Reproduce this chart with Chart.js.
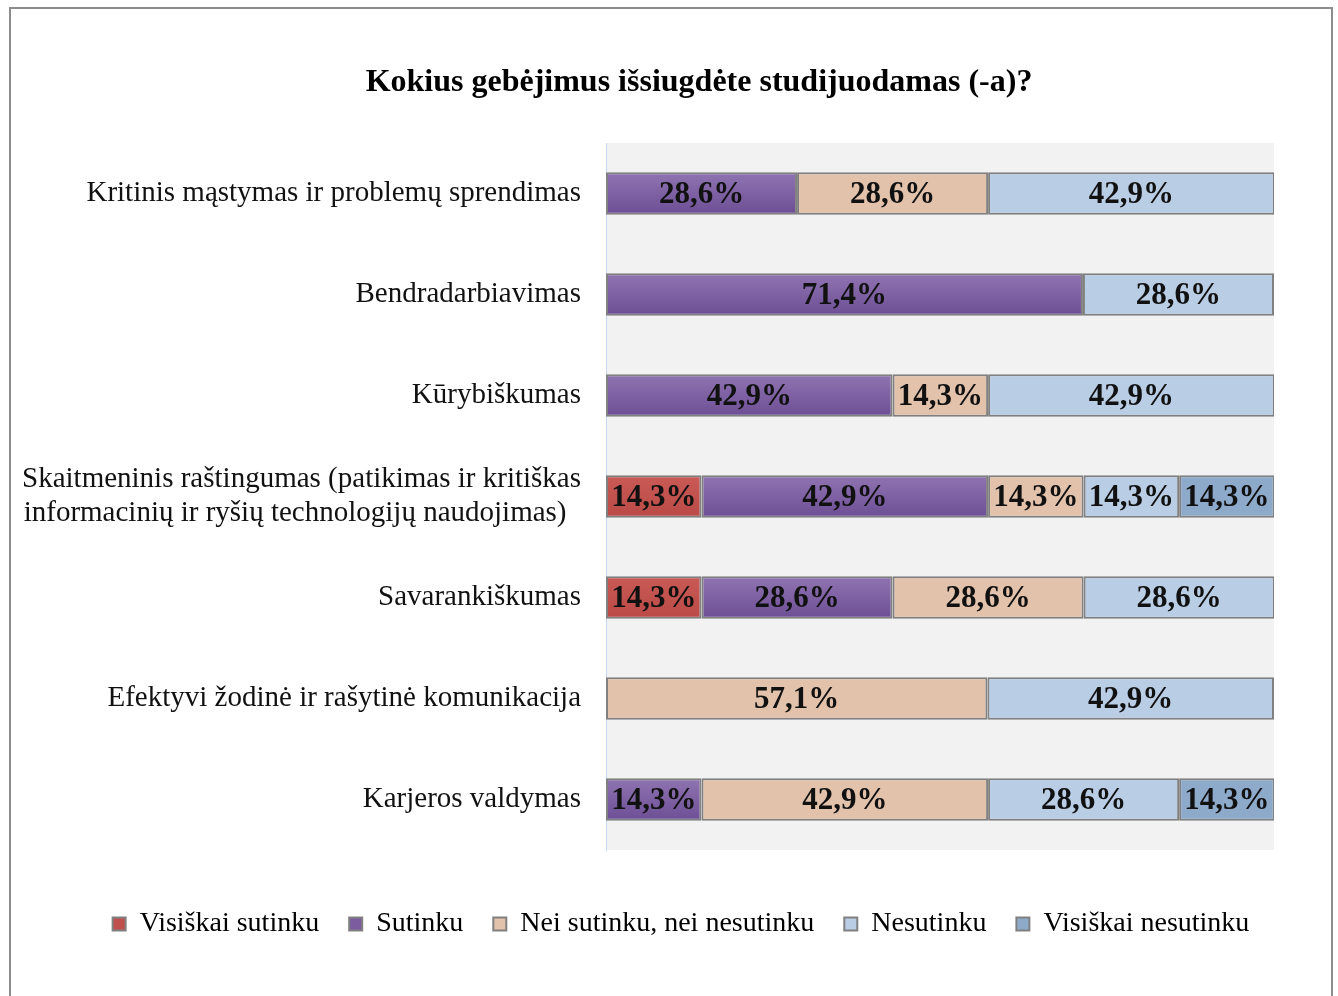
<!DOCTYPE html>
<html>
<head>
<meta charset="utf-8">
<script src="https://cdn.jsdelivr.net/npm/chart.js@4"></script>
<style>
html, body { margin: 0; padding: 0; background: #fff; overflow: hidden; }
#frame { position: absolute; left: 9px; top: 7px; width: 1320px; height: 1010px; border: 2px solid #8d8d8d; }
#grafico { position: absolute; left: 0; top: 0; }
</style>
</head>
<body>
<div id="frame"></div>
<canvas id="grafico" width="1338" height="996"></canvas>
<script>
const titulo = 'Kokius gebėjimus išsiugdėte studijuodamas (-a)?';

const categorias = [
  'Kritinis mąstymas ir problemų sprendimas',
  'Bendradarbiavimas',
  'Kūrybiškumas',
  ['Skaitmeninis raštingumas (patikimas ir kritiškas', 'informacinių ir ryšių technologijų naudojimas)  '],
  'Savarankiškumas',
  'Efektyvi žodinė ir rašytinė komunikacija',
  'Karjeros valdymas'
];

const series = ['Visiškai sutinku', 'Sutinku', 'Nei sutinku, nei nesutinku', 'Nesutinku', 'Visiškai nesutinku'];

// % by category, null = no segment
const visiskaiSutinku   = [null, null, null, 14.3, 14.3, null, null];
const sutinku           = [28.6, 71.4, 42.9, 42.9, 28.6, null, 14.3];
const neiSutinku        = [28.6, null, 14.3, 14.3, 28.6, 57.1, 42.9];
const nesutinku         = [42.9, 28.6, 42.9, 14.3, 28.6, 42.9, 28.6];
const visiskaiNesutinku = [null, null, null, 14.3, null, null, 14.3];

const valores = [visiskaiSutinku, sutinku, neiSutinku, nesutinku, visiskaiNesutinku];
const colores = ['#c0504d', '#7c5c9f', '#e2c2ab', '#b9cde5', '#8eaacb'];
const coloresArriba = ['#c95a56', '#8f74b1', '#e2c2ab', '#b9cde5', '#8eaacb'];
const coloresAbajo  = ['#bb4a46', '#6d4e95', '#e2c2ab', '#b9cde5', '#8eaacb'];

const serif = '"Liberation Serif", "Times New Roman", serif';

const fmt = v => v.toFixed(1).replace('.', ',') + '%';

// vertical gradient inside each bar (needs element positions, so a second update)
const degradado = i => c => {
  const el = c.element;
  if (!el || !isFinite(el.y) || !el.height) return colores[i];
  const g = c.chart.ctx.createLinearGradient(0, el.y - el.height / 2, 0, el.y + el.height / 2);
  g.addColorStop(0, coloresArriba[i]);
  g.addColorStop(1, coloresAbajo[i]);
  return g;
};

const fondo = {
  id: 'fondo',
  beforeDraw(chart) {
    const { ctx, chartArea: a } = chart;
    ctx.save();
    ctx.fillStyle = '#f2f2f2';
    ctx.fillRect(a.left, a.top, a.right - a.left, a.bottom - a.top);
    ctx.restore();
  }
};

const tituloPlugin = {
  id: 'tituloPlugin',
  afterDraw(chart) {
    const ctx = chart.ctx;
    ctx.save();
    ctx.font = 'bold 32px ' + serif;
    ctx.fillStyle = '#000';
    ctx.textAlign = 'center';
    ctx.textBaseline = 'middle';
    ctx.fillText(titulo, 699, 83);
    ctx.restore();
  }
};

const etiquetas = {
  id: 'etiquetas',
  afterDatasetsDraw(chart) {
    const ctx = chart.ctx;
    ctx.save();
    ctx.font = 'bold 31px ' + serif;
    ctx.fillStyle = '#111';
    ctx.textAlign = 'center';
    ctx.textBaseline = 'middle';
    chart.data.datasets.forEach((ds, i) => {
      chart.getDatasetMeta(i).data.forEach((bar, j) => {
        const v = ds.data[j];
        if (v == null) return;
        const p = bar.getProps(['x', 'y', 'base'], true);
        ctx.fillText(fmt(v), (p.x + p.base) / 2, p.y + 1);
      });
    });
    ctx.restore();
  }
};

const grafico = new Chart(document.getElementById('grafico'), {
  type: 'bar',
  data: {
    labels: categorias,
    datasets: series.map((s, i) => ({
      label: s,
      data: valores[i],
      backgroundColor: degradado(i),
      borderColor: '#808080',
      borderWidth: 2,
      borderSkipped: false,
      barPercentage: 0.42,
      categoryPercentage: 1
    }))
  },
  options: {
    indexAxis: 'y',
    responsive: false,
    animation: false,
    layout: { padding: { top: 143, left: 24, right: 0, bottom: 48 } },
    scales: {
      x: {
        stacked: true, min: 0, max: 100,
        grid: { display: false, drawTicks: false },
        border: { display: false },
        ticks: { display: false },
        afterFit: s => { s.height = 30; }
      },
      y: {
        stacked: true,
        grid: { display: false, drawTicks: false },
        border: { display: true, color: '#c6d7ee', width: 1 },
        ticks: { color: '#111', padding: 25, font: { family: serif, size: 29, lineHeight: 1.15 } },
        afterFit: s => { s.width = 582; }
      },
      // empty right margin so the plot ends at x=1274
      yRight: {
        type: 'category',
        position: 'right',
        grid: { display: false, drawTicks: false },
        border: { display: false },
        ticks: { display: false },
        afterFit: s => { s.width = 64; }
      }
    },
    plugins: {
      title: { display: false },
      tooltip: { enabled: false },
      legend: {
        position: 'bottom',
        labels: {
          boxWidth: 13, boxHeight: 13, padding: 30,
          color: '#111',
          font: { family: serif, size: 28 },
          generateLabels: chart => chart.data.datasets.map((ds, i) => ({
            text: ds.label, fillStyle: colores[i], strokeStyle: '#808080',
            lineWidth: 2, datasetIndex: i, hidden: false
          }))
        }
      }
    }
  },
  plugins: [fondo, tituloPlugin, etiquetas]
});
grafico.update();
</script>
</body>
</html>
